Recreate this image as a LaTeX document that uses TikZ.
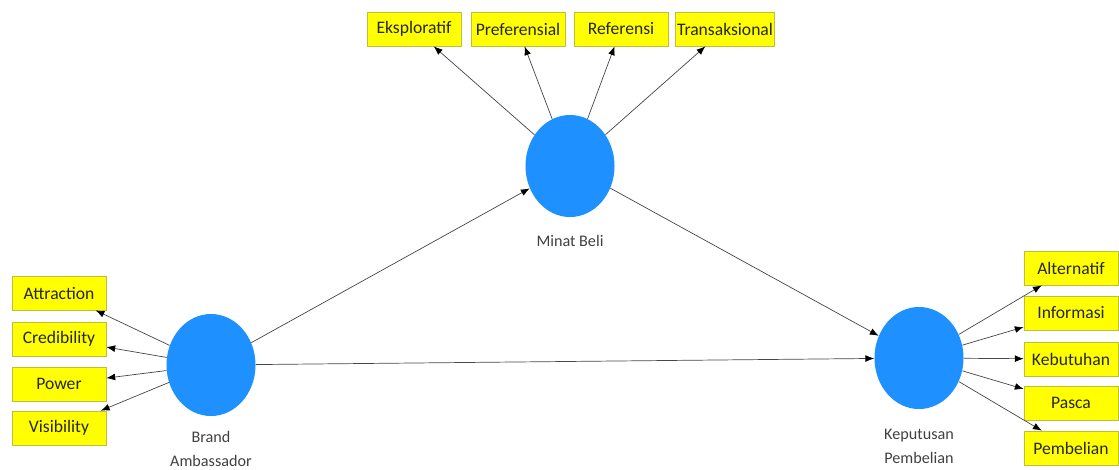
\documentclass[tikz,border=0pt]{standalone}
\usepackage{fontspec}
\setmainfont{Carlito}
\usetikzlibrary{shapes.geometric,arrows.meta}

\definecolor{latentblue}{RGB}{30,144,255}
\definecolor{itemyellow}{RGB}{255,255,0}
\definecolor{itemedge}{RGB}{190,190,60}
\definecolor{pathgray}{RGB}{70,70,70}

\begin{document}
\begin{tikzpicture}[x=0.025cm, y=-0.025cm,
    latent/.style={ellipse, fill=latentblue, minimum width=2.225cm, minimum height=2.55cm, inner sep=0pt},
    item/.style={rectangle, fill=itemyellow, draw=itemedge, line width=0.5pt, minimum width=2.35cm, minimum height=0.85cm, inner sep=1pt, font=\fontsize{12.5}{14}\selectfont, text=black!85},
    caption/.style={align=center, font=\fontsize{11.5}{17}\selectfont, text=black!75},
    path/.style={draw=pathgray, line width=0.5pt, -{Latex[length=2.2mm,width=1.7mm,color=black]}}]
    \useasboundingbox (0,0) rectangle (1119,469);

    % Latent variables
    \node[latent] (minat) at (570,166) {};
    \node[latent] (brand) at (211,365) {};
    \node[latent] (keputusan) at (919,358) {};
    \node[caption] at (570,241) {Minat Beli};
    \node[caption] at (211,449) {Brand\\Ambassador};
    \node[caption] at (919,446) {Keputusan\\Pembelian};

    % Indicators of Minat Beli
    \node[item] (eksploratif) at (414,29) {Eksploratif};
    \node[item] (preferensial) at (518,29) {Preferensial};
    \node[item] (referensi) at (621,29) {Referensi};
    \node[item] (transaksional) at (725,29) {Transaksional};

    % Indicators of Brand Ambassador
    \node[item] (attraction) at (59,293) {Attraction};
    \node[item] (credibility) at (59,339) {Credibility};
    \node[item] (power) at (59,384) {Power};
    \node[item] (visibility) at (59,428) {Visibility};

    % Indicators of Keputusan Pembelian
    \node[item] (alternatif) at (1071,268) {Alternatif};
    \node[item] (informasi) at (1071,313) {Informasi};
    \node[item] (kebutuhan) at (1071,359) {Kebutuhan};
    \node[item] (pasca) at (1071,403) {Pasca};
    \node[item] (pembelian) at (1071,448) {Pembelian};

    % Outer paths
    \foreach \ind in {eksploratif,preferensial,referensi,transaksional}
        \draw[path] (minat) -- (\ind);
    \foreach \ind in {attraction,credibility,power,visibility}
        \draw[path] (brand) -- (\ind);
    \foreach \ind in {alternatif,informasi,kebutuhan,pasca,pembelian}
        \draw[path] (keputusan) -- (\ind);

    % Inner paths
    \draw[path] (brand) -- (minat);
    \draw[path] (brand) -- (keputusan);
    \draw[path] (minat) -- (keputusan);
\end{tikzpicture}
\end{document}
